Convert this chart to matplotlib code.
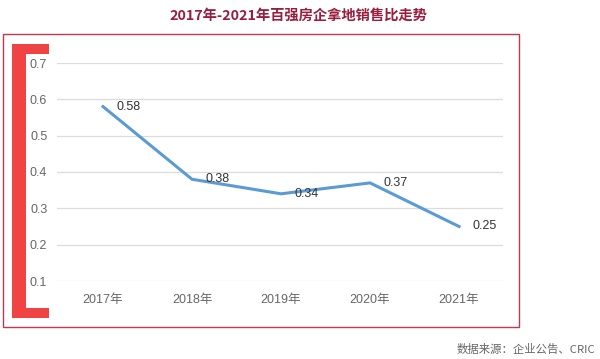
import matplotlib
matplotlib.use("Agg")
import matplotlib.pyplot as plt
from matplotlib.patches import Rectangle

plt.rcParams['font.family'] = ['Liberation Sans', 'Noto Sans CJK SC', 'DejaVu Sans']

years = ['2017年', '2018年', '2019年', '2020年', '2021年']
ratios = [0.58, 0.38, 0.34, 0.37, 0.25]
yticks = [0.1, 0.2, 0.3, 0.4, 0.5, 0.6, 0.7]
title = '2017年-2021年百强房企拿地销售比走势'
source = '数据来源：企业公告、CRIC'

W, H = 600, 359
fig = plt.figure(figsize=(W / 100, H / 100), dpi=100)

def fx(px):
    return px / W

def fy(py):
    return 1 - py / H

ax = fig.add_axes([fx(57), fy(281), fx(503) - fx(57), fy(63) - fy(281)])
x = list(range(len(years)))
ax.plot(x, ratios, color='#5b9bd5', lw=2.2, clip_on=False, solid_joinstyle='miter')
for xi, v in zip(x, ratios):
    ax.annotate(f'{v:.2f}', (xi, v), xytext=(9.5, 0), textcoords='offset points',
                ha='left', va='center', fontsize=9, color='#333333')

ax.set_xlim(-0.517, 4.494)
ax.set_ylim(0.1, 0.7)
ax.set_yticks(yticks)
ax.set_yticklabels([f'{t:.1f}' for t in yticks])
ax.set_xticks(x)
ax.set_xticklabels(years)
ax.grid(axis='y', color='#dcdcdc', lw=0.9)
ax.set_axisbelow(True)
for s in ax.spines.values():
    s.set_visible(False)
ax.tick_params(axis='both', length=0, labelsize=9, labelcolor='#666666')
ax.tick_params(axis='y', pad=7)
ax.tick_params(axis='x', pad=9)

# outer frame
fig.patches.append(Rectangle((fx(3), fy(327)), fx(519) - fx(3), fy(34) - fy(327),
                             transform=fig.transFigure, fill=False,
                             edgecolor='#c0394f', lw=1.0))
# red bracket
bc = '#f04343'
fig.patches.append(Rectangle((fx(12), fy(318)), fx(26) - fx(12), fy(44) - fy(318),
                             transform=fig.transFigure, color=bc, lw=0))
fig.patches.append(Rectangle((fx(12), fy(54)), fx(49) - fx(12), fy(44) - fy(54),
                             transform=fig.transFigure, color=bc, lw=0))
fig.patches.append(Rectangle((fx(12), fy(318)), fx(49) - fx(12), fy(308) - fy(318),
                             transform=fig.transFigure, color=bc, lw=0))

fig.text(fx(298), fy(16), title, ha='center', va='center', fontsize=10.3,
         fontweight='bold', color='#9b1d3d', family=['Noto Sans CJK SC', 'DejaVu Sans'])
fig.text(fx(595), fy(350), source, ha='right', va='center', fontsize=8.2,
         color='#666666', family=['Noto Sans CJK SC', 'DejaVu Sans'])

fig.savefig('out.png', dpi=100)
